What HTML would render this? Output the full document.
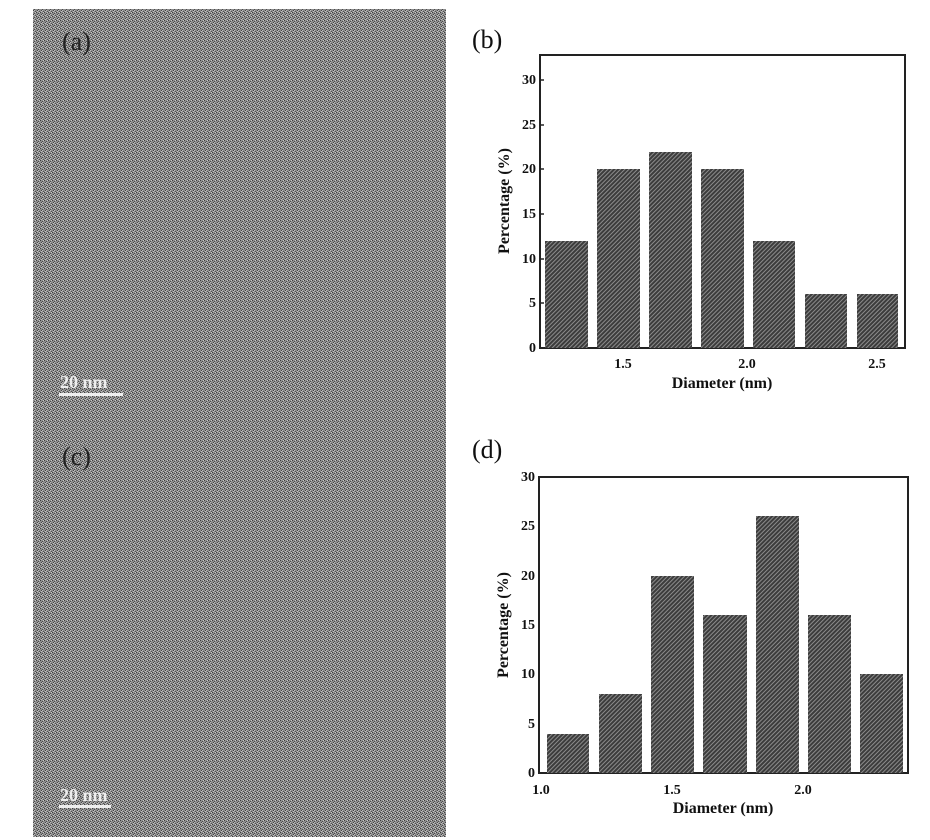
<!DOCTYPE html>
<html><head><meta charset="utf-8"><style>
html,body{margin:0;padding:0;background:#fff;width:930px;height:840px;overflow:hidden}
text{font-family:"Liberation Serif",serif;font-weight:bold;fill:#111}
</style></head><body>
<svg width="930" height="840" viewBox="0 0 930 840" xmlns="http://www.w3.org/2000/svg">
<defs>
<pattern id="tem" width="4" height="4" patternUnits="userSpaceOnUse">
<rect width="4" height="4" fill="#8e8e8e"/>
<rect x="0" y="0" width="1" height="1" fill="#3e3e3e"/><rect x="2" y="1" width="1" height="1" fill="#4a4a4a"/>
<rect x="1" y="2" width="1" height="1" fill="#444"/><rect x="3" y="3" width="1" height="1" fill="#505050"/>
<rect x="3" y="0" width="1" height="1" fill="#c8c8c8"/><rect x="1" y="3" width="1" height="1" fill="#c0c0c0"/>
<rect x="2" y="2" width="1" height="1" fill="#bdbdbd"/>
</pattern>
<pattern id="hat" width="3" height="3" patternUnits="userSpaceOnUse" patternTransform="rotate(45)">
<rect width="3" height="3" fill="#3c3c3c"/><rect width="1" height="3" fill="#8c8c8c"/>
</pattern>
</defs>
<rect x="33" y="9" width="413" height="828" fill="url(#tem)"/>
<text x="62" y="50" font-size="26" style="font-weight:normal;fill:#222">(a)</text>
<text x="60" y="388" font-size="18" style="fill:#eee">20  nm</text>
<rect x="59" y="393" width="64" height="3" fill="#eee"/>
<text x="62" y="465" font-size="26" style="font-weight:normal;fill:#222">(c)</text>
<text x="60" y="801" font-size="18" style="fill:#eee">20  nm</text>
<rect x="59" y="805" width="52" height="3" fill="#eee"/>

<text x="472" y="48" font-size="26" style="font-weight:normal">(b)</text>
<rect x="540" y="55" width="365" height="293" fill="#fff" stroke="#222" stroke-width="2"/>
<g fill="url(#hat)">
<rect x="545" y="241" width="43" height="107"/>
<rect x="597" y="169" width="43" height="179"/>
<rect x="649" y="152" width="43" height="196"/>
<rect x="701" y="169" width="43" height="179"/>
<rect x="753" y="241" width="42" height="107"/>
<rect x="805" y="294" width="42" height="54"/>
<rect x="857" y="294" width="41" height="54"/>
</g>
<g font-size="14" text-anchor="end">
<text x="536" y="352">0</text><text x="536" y="307">5</text><text x="536" y="263">10</text>
<text x="536" y="218">15</text><text x="536" y="173">20</text><text x="536" y="129">25</text><text x="536" y="84">30</text>
</g>
<g stroke="#222" stroke-width="1.5">
<line x1="540" y1="303" x2="544" y2="303"/><line x1="540" y1="259" x2="544" y2="259"/><line x1="540" y1="214" x2="544" y2="214"/>
<line x1="540" y1="169" x2="544" y2="169"/><line x1="540" y1="125" x2="544" y2="125"/><line x1="540" y1="80" x2="544" y2="80"/>
</g>
<g font-size="14" text-anchor="middle">
<text x="623" y="368">1.5</text><text x="747" y="368">2.0</text><text x="877" y="368">2.5</text>
</g>
<text x="722" y="388" font-size="16" text-anchor="middle">Diameter (nm)</text>
<text transform="translate(509,201) rotate(-90)" font-size="16" text-anchor="middle">Percentage (%)</text>

<text x="472" y="458" font-size="26" style="font-weight:normal">(d)</text>
<rect x="539" y="477" width="369" height="296" fill="#fff" stroke="#222" stroke-width="2"/>
<g fill="url(#hat)">
<rect x="547" y="734" width="42" height="39"/>
<rect x="599" y="694" width="43" height="79"/>
<rect x="651" y="576" width="43" height="197"/>
<rect x="703" y="615" width="44" height="158"/>
<rect x="756" y="516" width="43" height="257"/>
<rect x="808" y="615" width="43" height="158"/>
<rect x="860" y="674" width="43" height="99"/>
</g>
<g font-size="14" text-anchor="end">
<text x="535" y="777">0</text><text x="535" y="728">5</text><text x="535" y="678">10</text>
<text x="535" y="629">15</text><text x="535" y="580">20</text><text x="535" y="530">25</text><text x="535" y="481">30</text>
</g>
<g font-size="14" text-anchor="middle">
<text x="541" y="794">1.0</text><text x="672" y="794">1.5</text><text x="803" y="794">2.0</text>
</g>
<text x="723" y="813" font-size="16" text-anchor="middle">Diameter (nm)</text>
<text transform="translate(508,625) rotate(-90)" font-size="16" text-anchor="middle">Percentage (%)</text>
</svg>
</body></html>
